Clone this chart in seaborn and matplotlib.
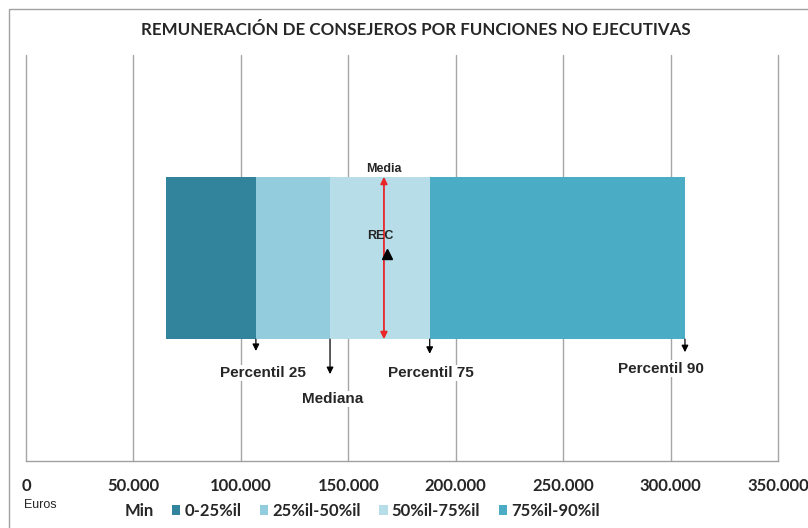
import seaborn as sns
import pandas as pd
import numpy as np
import matplotlib.pyplot as plt
from matplotlib.patches import Patch, Rectangle

# datos (euros)
segmentos = ["Min", "0-25%il", "25%il-50%il", "50%il-75%il", "75%il-90%il"]
limites = [0, 65200, 107000, 141500, 187900, 306700]   # min, p25, mediana, p75, p90
media = 166600
rec = 168200
colores = ["none", "#31849B", "#93CDDD", "#B7DEE8", "#4BACC6"]
ticks = [0, 50000, 100000, 150000, 200000, 250000, 300000, 350000]
tick_labels = ["0", "50.000", "100.000", "150.000", "200.000", "250.000", "300.000", "350.000"]
percentiles = ["Percentil 25", "Mediana", "Percentil 75", "Percentil 90"]

sns.set_style("white")
plt.rcParams['font.family'] = ['Lato', 'DejaVu Sans']
arial = ['Liberation Sans', 'DejaVu Sans']

fig = plt.figure(figsize=(8.08, 5.28), dpi=100)
# marco exterior
fig.patches.append(Rectangle((9/808, -0.1), 1.1, (528-9)/528 + 0.1, transform=fig.transFigure,
                             fill=False, edgecolor="#A0A0A0", lw=1))
ax = fig.add_axes([26/808, (528-461)/528, 752/808, 406/528])

df = pd.DataFrame({"segmento": segmentos,
                   "inicio": limites[:-1],
                   "ancho": np.diff(limites)})

for i, row in df.iterrows():
    if row["segmento"] == "Min":
        continue  # el minimo no se pinta
    sns.barplot(x=[row["ancho"]], y=[""], left=row["inicio"], orient="h", width=0.4,
                color=colores[i], saturation=1, errorbar=None, ax=ax, zorder=2,
                edgecolor="none", linewidth=0)

ax.set_xlim(0, 350000)
ax.set_ylim(0.5, -0.5)
ax.set_xticks(ticks)
ax.set_xticklabels(tick_labels, fontsize=12, fontweight="bold")
ax.tick_params(axis="x", length=4, color="#A0A0A0", pad=8, direction="out")
ax.set_yticks([])
ax.set_ylabel("")
ax.set_xlabel("")
ax.grid(axis="x", color="#A6A6A6", lw=1)
for gl in ax.get_xgridlines():
    gl.set_clip_on(False)
ax.set_axisbelow(True)
for s in ["left", "top", "right"]:
    ax.spines[s].set_visible(False)
ax.spines["bottom"].set_color("#A0A0A0")
ax.spines["bottom"].set_linewidth(1)

# flecha de la media
ax.annotate("", xy=(media, 0.3), xycoords=("data", "axes fraction"),
            xytext=(media, 0.7), textcoords=("data", "axes fraction"),
            arrowprops=dict(arrowstyle="<|-|>", color="#E8262A", lw=1.3, mutation_scale=10,
                            shrinkA=0, shrinkB=0),
            zorder=5)
ax.text(media, 0.719, "Media", transform=ax.get_xaxis_transform(), ha="center", va="center",
        fontsize=9, fontweight="bold", family=arial, zorder=6)

# REC
ax.plot([rec], [0.51], marker="^", color="black", ms=7, transform=ax.get_xaxis_transform(),
        zorder=6, clip_on=False)
ax.text(rec - 3200, 0.554, "REC", transform=ax.get_xaxis_transform(), ha="center", va="center",
        fontsize=9, fontweight="bold", family=arial, zorder=6)

# percentiles
puntas = [0.271, 0.214, 0.264, 0.268]
etiqueta_x = [110300, 142900, 188500, 295600]
etiqueta_y = [0.217, 0.153, 0.217, 0.227]
for val, nombre, punta, lx, ly in zip(limites[2:], percentiles, puntas, etiqueta_x, etiqueta_y):
    ax.annotate("", xy=(val, punta), xycoords=("data", "axes fraction"),
                xytext=(val, 0.3), textcoords=("data", "axes fraction"),
                arrowprops=dict(arrowstyle="-|>", color="black", lw=0.9, mutation_scale=10,
                                shrinkA=0, shrinkB=0))
    ax.text(lx, ly, nombre, transform=ax.get_xaxis_transform(), ha="center", va="center",
            fontsize=11, fontweight="bold", family=arial, zorder=6,
            bbox=dict(facecolor="white", edgecolor="none", pad=1))

fig.text(416/808, 1 - 30/528, "REMUNERACIÓN DE CONSEJEROS POR FUNCIONES NO EJECUTIVAS",
         ha="center", va="center", fontsize=12.2, fontweight="bold")
fig.text(24/808, 1 - 505/528, "Euros", ha="left", va="center", fontsize=9, family=arial)

handles = [Patch(facecolor=c, edgecolor="none") for c in colores]
fig.legend(handles, segmentos, loc="center left", bbox_to_anchor=(112/808, 1 - 511/528), ncol=5,
           frameon=False, handlelength=0.5, handleheight=0.5, handletextpad=0.25,
           columnspacing=1.1, borderpad=0, borderaxespad=0, prop=dict(weight="bold", size=12))

plt.savefig("out.png", dpi=100)
